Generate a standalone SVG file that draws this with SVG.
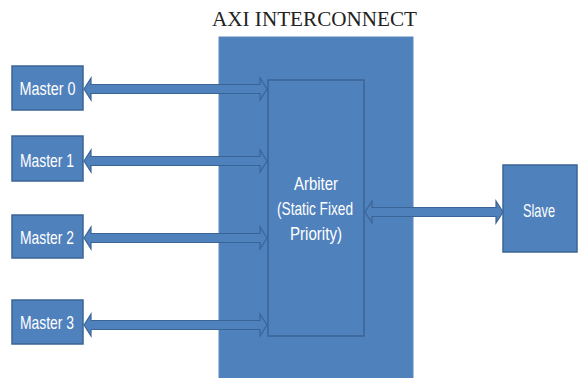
<svg xmlns="http://www.w3.org/2000/svg" width="580" height="378" viewBox="0 0 580 378">
  <style>
    .box { fill: #4f81bd; stroke: #3b6496; stroke-width: 1.5; }
    .bus { fill: #4f81bd; stroke: #3b6496; stroke-width: 1.2; }
    .frame { fill: #4f81bd; stroke: #5a88c0; stroke-width: 1; }
    .lbl { font-family: "Liberation Sans", Arial, sans-serif; font-size: 19px; fill: #ffffff; text-anchor: middle; }
    .title { font-family: "Liberation Serif", "Times New Roman", serif; font-size: 20px; fill: #222222; text-anchor: middle; }
  </style>
  <rect width="580" height="378" fill="#ffffff"/>

  <text class="title" x="314.5" y="26" textLength="205" lengthAdjust="spacingAndGlyphs">AXI INTERCONNECT</text>

  <g id="interconnect">
    <rect class="frame" x="219" y="37" width="194" height="345"/>
  </g>

  <g id="arbiter">
    <rect class="box" x="268" y="80" width="96" height="256"/>
    <text class="lbl" x="316" y="189.5" textLength="44" lengthAdjust="spacingAndGlyphs">Arbiter</text>
    <text class="lbl" x="315" y="215" textLength="76" lengthAdjust="spacingAndGlyphs">(Static Fixed</text>
    <text class="lbl" x="316" y="240" textLength="52" lengthAdjust="spacingAndGlyphs">Priority)</text>
  </g>

  <g id="master0">
    <rect class="box" x="12" y="66" width="71" height="44"/>
    <text class="lbl" x="47.5" y="95" textLength="56" lengthAdjust="spacingAndGlyphs">Master 0</text>
  </g>
  <g id="master1">
    <rect class="box" x="12" y="136" width="71" height="45"/>
    <text class="lbl" x="47" y="167" textLength="54" lengthAdjust="spacingAndGlyphs">Master 1</text>
  </g>
  <g id="master2">
    <rect class="box" x="12" y="215" width="71" height="43"/>
    <text class="lbl" x="47" y="244" textLength="54" lengthAdjust="spacingAndGlyphs">Master 2</text>
  </g>
  <g id="master3">
    <rect class="box" x="12" y="300" width="71" height="44"/>
    <text class="lbl" x="47" y="329" textLength="54" lengthAdjust="spacingAndGlyphs">Master 3</text>
  </g>

  <g id="slave">
    <rect class="box" x="503" y="165" width="74" height="87"/>
    <text class="lbl" x="539" y="217" textLength="32" lengthAdjust="spacingAndGlyphs">Slave</text>
  </g>

  <!-- double-headed bus arrows -->
  <g id="connectors">
    <path class="bus" d="M84,89 L91,78 L91,84.5 L260,84.5 L260,78 L267,89 L260,100 L260,93.5 L91,93.5 L91,100 Z"/>
    <path class="bus" d="M84,161 L91,150 L91,156.5 L260,156.5 L260,150 L267,161 L260,172 L260,165.5 L91,165.5 L91,172 Z"/>
    <path class="bus" d="M84,238 L91,227 L91,233.5 L260,233.5 L260,227 L267,238 L260,249 L260,242.5 L91,242.5 L91,249 Z"/>
    <path class="bus" d="M84,325 L91,314 L91,320.5 L260,320.5 L260,314 L267,325 L260,336 L260,329.5 L91,329.5 L91,336 Z"/>
    <path class="bus" d="M365,212 L372,201 L372,207.5 L496,207.5 L496,201 L503,212 L496,223 L496,216.5 L372,216.5 L372,223 Z"/>
  </g>
</svg>
